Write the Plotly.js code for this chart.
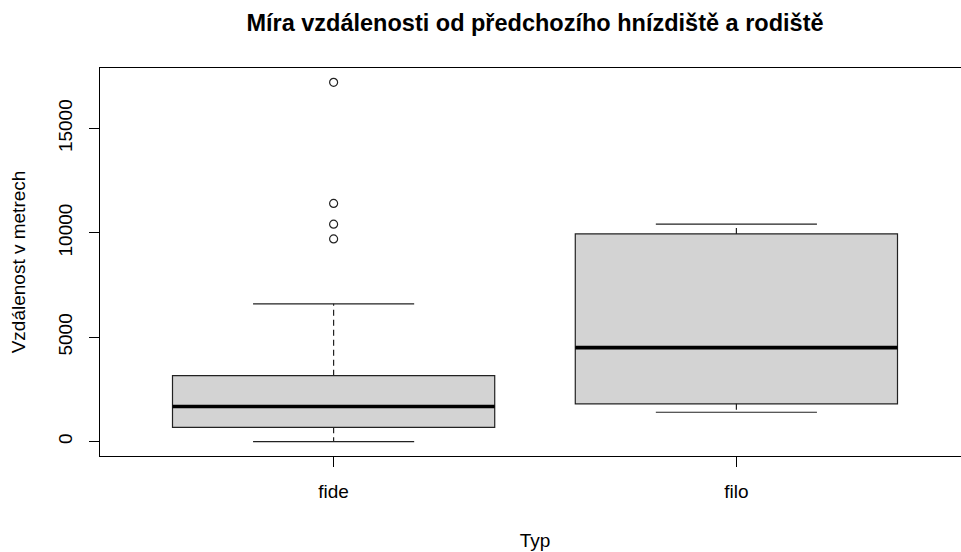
<!DOCTYPE html>
<html>
<head>
<meta charset="utf-8">
<script src="https://cdn.plot.ly/plotly-3.0.1.min.js"></script>
<style>
html, body { margin: 0; padding: 0; overflow: hidden; background: #fff; }
#chart { width: 980px; height: 552px; }
</style>
</head>
<body>
<div id="chart"></div>
<script>
// ---- data ----
const categories = ['fide', 'filo'];
const positions = [1, 2];
const lowerWhisker = [0, 1409];
const q1 = [688, 1813];
const median = [1683, 4505];
const q3 = [3159, 9952];
const upperWhisker = [6601, 10419];
const outliersFide = [9712, 10419, 11410, 17212];
const outliersFilo = [];
const yTicks = [0, 5000, 10000, 15000];

const titleText = 'Míra vzdálenosti od předchozího hnízdiště a rodiště';
const xTitle = 'Typ';
const yTitle = 'Vzdálenost v metrech';

// ---- styling ----
const FONT = 'Liberation Sans, Arial, sans-serif';
const boxW = 0.8;
const capHalf = boxW / 4;
const medHalf = boxW / 2;

const traces = [];

// boxes (no whiskers; drawn separately so they can be dashed)
traces.push({
  type: 'box',
  x: positions,
  q1: q1,
  median: median,
  q3: q3,
  lowerfence: q1,
  upperfence: q3,
  width: boxW,
  whiskerwidth: 0,
  fillcolor: '#d3d3d3',
  line: { color: '#222222', width: 1.2 },
  boxpoints: false,
  hoverinfo: 'skip',
  showlegend: false
});

// dashed whiskers
const wx = [], wy = [];
positions.forEach((p, i) => {
  wx.push(p, p, null, p, p, null);
  wy.push(q3[i], upperWhisker[i], null, q1[i], lowerWhisker[i], null);
});
traces.push({
  type: 'scatter', mode: 'lines', x: wx, y: wy,
  line: { color: '#222222', width: 1.2, dash: '6px,4px' },
  hoverinfo: 'skip', showlegend: false
});

// whisker caps
const cx = [], cy = [];
positions.forEach((p, i) => {
  cx.push(p - capHalf, p + capHalf, null, p - capHalf, p + capHalf, null);
  cy.push(upperWhisker[i], upperWhisker[i], null, lowerWhisker[i], lowerWhisker[i], null);
});
traces.push({
  type: 'scatter', mode: 'lines', x: cx, y: cy,
  line: { color: '#222222', width: 1.2 },
  hoverinfo: 'skip', showlegend: false
});

// thick medians
const mx = [], my = [];
positions.forEach((p, i) => {
  mx.push(p - medHalf, p + medHalf, null);
  my.push(median[i], median[i], null);
});
traces.push({
  type: 'scatter', mode: 'lines', x: mx, y: my,
  line: { color: '#000000', width: 3.6 },
  hoverinfo: 'skip', showlegend: false
});

// outliers
const ox = [], oy = [];
[outliersFide, outliersFilo].forEach((arr, i) => {
  arr.forEach(v => { ox.push(positions[i]); oy.push(v); });
});
traces.push({
  type: 'scatter', mode: 'markers', x: ox, y: oy,
  marker: { symbol: 'circle-open', size: 8, color: '#222222', line: { width: 1.2, color: '#222222' } },
  hoverinfo: 'skip', showlegend: false
});

const layout = {
  width: 980,
  height: 552,
  margin: { l: 100, r: 10, t: 68, b: 96 },
  paper_bgcolor: '#ffffff',
  plot_bgcolor: '#ffffff',
  font: { family: FONT, size: 19, color: '#000000' },
  showlegend: false,
  title: {
    text: '<b>' + titleText + '</b>',
    font: { family: FONT, size: 23.5, color: '#000000' },
    x: 0.5, xref: 'paper', xanchor: 'center',
    y: 1 - 23 / 552, yref: 'container', yanchor: 'middle'
  },
  xaxis: {
    range: [0.42, 2.58],
    tickmode: 'array',
    tickvals: positions,
    ticktext: categories,
    ticks: 'outside', ticklen: 10, tickwidth: 1, tickcolor: '#000',
    ticklabelstandoff: 8,
    showgrid: false, zeroline: false,
    showline: true, mirror: true, linecolor: '#000', linewidth: 1,
    tickfont: { family: FONT, size: 19, color: '#000' },
    title: { text: xTitle, font: { family: FONT, size: 19, color: '#000' }, standoff: 32 },
    fixedrange: true
  },
  yaxis: {
    range: [-688, 17900],
    tickmode: 'array',
    tickvals: yTicks,
    ticktext: yTicks.map(String),
    tickangle: -90,
    ticks: 'outside', ticklen: 10, tickwidth: 1, tickcolor: '#000',
    ticklabelstandoff: 9,
    showgrid: false, zeroline: false,
    showline: true, mirror: true, linecolor: '#000', linewidth: 1,
    tickfont: { family: FONT, size: 19, color: '#000' },
    title: { text: yTitle, font: { family: FONT, size: 19, color: '#000' }, standoff: 24 },
    fixedrange: true
  }
};

Plotly.newPlot('chart', traces, layout, { displayModeBar: false, staticPlot: true });
</script>
</body>
</html>
